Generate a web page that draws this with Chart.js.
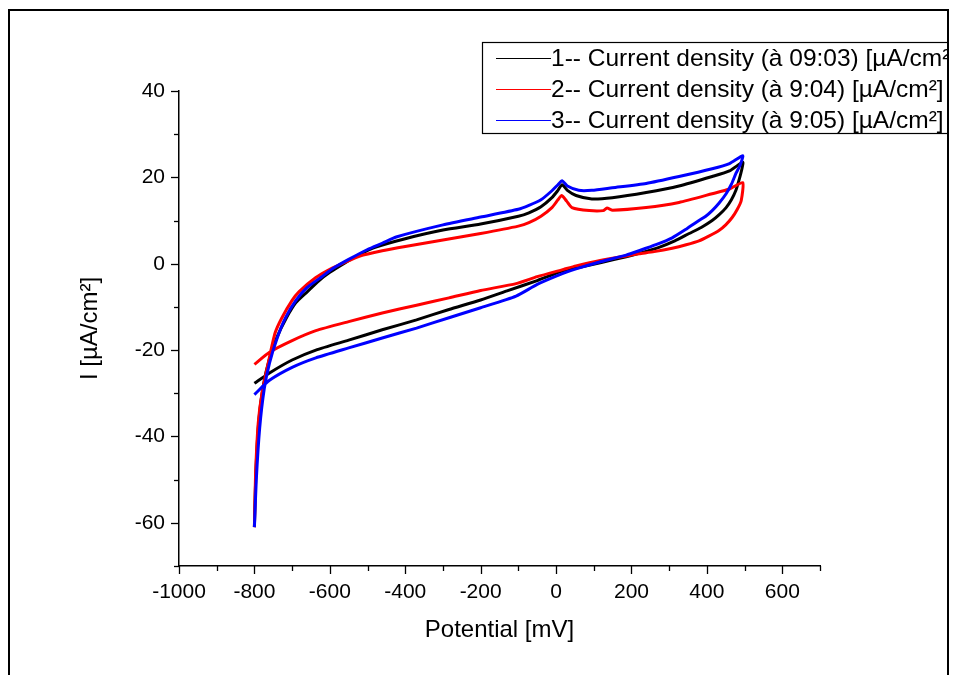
<!DOCTYPE html>
<html><head><meta charset="utf-8">
<script src="https://cdn.jsdelivr.net/npm/chart.js@4.4.0/dist/chart.umd.min.js"></script>
<style>html,body{margin:0;padding:0;background:#fff}canvas{display:block}</style>
</head><body>
<canvas id="c" width="954" height="675"></canvas>
<script>
// ---- data ----
const seriesLabels = [
  '1-- Current density (à 09:03) [µA/cm²]',
  '2-- Current density (à 9:04) [µA/cm²]',
  '3-- Current density (à 9:05) [µA/cm²]'
];
const seriesColors = ['#000000', '#ff0000', '#0000ff'];

// series 1 (black): forward sweep -800 -> 495, then reverse sweep 495 -> -800
const potential1 = [-800,-796,-788,-776,-760,-740,-715,-690,-660,-630,-600,-560,-520,-480,-400,-300,-200,-100,-72,-40,-11,5,16,30,53,95,149,239,326,414,460,495,
                    493,485,477,465,451,432,414,385,353,315,273,220,186,120,60,20,-50,-130,-200,-284,-370,-461,-550,-637,-700,-760,-800];
const current1   = [-61,-48,-36,-28,-22,-17,-12.5,-9,-6.5,-4,-2,0.2,2.2,3.8,5.8,7.8,9.2,11,11.8,13.2,15.3,17,18.3,17,15.8,15,15.3,16.5,18,20.2,21.5,23.5,
                    22,19.3,17,14.8,13,11.3,10,8.4,7,5.3,3.8,2.4,1.6,0.3,-0.9,-1.6,-3.9,-6.3,-8.4,-10.6,-13,-15.3,-17.7,-20,-22.3,-25.3,-27.7];

// series 2 (red)
const potential2 = [-800,-797,-790,-780,-761,-745,-727,-700,-682,-637,-600,-568,-520,-461,-400,-300,-200,-100,-72,-40,-11,5,15,28,42,88,125,135,150,239,326,414,460,495,
                    491,480,467,450,432,405,379,345,308,260,220,186,120,53,20,-50,-106,-200,-284,-370,-461,-550,-637,-700,-760,-800];
const current2   = [-61,-49,-37,-30,-22,-16,-12.5,-8.5,-6.5,-3.2,-1.3,0,1.8,3,4,5.5,7,8.7,9.5,11,13,14.8,15.8,14.5,13,12.3,12.3,12.9,12.4,13,14.2,16.2,17.3,18.8,
                    14.6,12.5,10.7,9,7.7,6.4,5.3,4.4,3.6,2.8,2.3,1.8,0.8,-0.5,-1.3,-3,-4.6,-6.2,-7.9,-9.6,-11.4,-13.4,-15.5,-17.8,-20.5,-23.3];

// series 3 (blue)
const potential3 = [-800,-795,-786,-774,-760,-740,-718,-690,-660,-621,-590,-550,-500,-460,-424,-300,-200,-100,-72,-40,-11,5,16,30,60,95,149,239,326,414,460,495,
                    488,477,465,451,432,414,397,379,345,308,265,220,186,120,53,20,-50,-106,-200,-284,-370,-461,-550,-637,-700,-760,-800];
const current3   = [-61,-50,-38,-29,-23,-17.3,-12.6,-8.5,-5.5,-3,-1,1,3.3,4.8,6.2,9,10.8,12.6,13.5,14.8,16.9,18.3,19.2,18,17,17,17.6,18.6,20.2,22,23.2,25,
                    22.8,20.9,18.4,16.2,14,12.3,11,10,8,6,4.4,3,2,0.5,-1.2,-2.2,-4.8,-7.5,-10.2,-12.5,-14.9,-17.2,-19.5,-21.8,-24,-27,-30.3];

const xTickValues = [-1000,-800,-600,-400,-200,0,200,400,600];
const yTickValues = [-60,-40,-20,0,20,40];
const xTitle = 'Potential [mV]';
const yTitle = 'I [µA/cm²]';

// ---- build ----
const potentials = [potential1, potential2, potential3];
const currents = [current1, current2, current3];
const FONT = "'Liberation Sans', Arial, sans-serif";

const datasets = seriesLabels.map((lab, i) => ({
  label: lab,
  data: potentials[i].map((x, k) => ({x: x, y: currents[i][k]})),
  borderColor: seriesColors[i],
  backgroundColor: seriesColors[i],
  borderWidth: 3,
  pointRadius: 0,
  showLine: true,
  fill: false,
  tension: 0.2,
  order: 3 - i
}));

const PLOT = {left: 179, right: 820, top: 91, bottom: 566};

const decorPlugin = {
  id: 'decor',
  afterDraw(chart) {
    const ctx = chart.ctx;
    const xs = chart.scales.x, ys = chart.scales.y;
    const ca = chart.chartArea;
    ctx.save();
    ctx.strokeStyle = '#000';
    ctx.lineWidth = 1.3;
    xs.ticks.forEach(t => {
      const px = Math.round(xs.getPixelForValue(t.value)) + 0.5;
      const major = xTickValues.includes(t.value);
      ctx.beginPath();
      ctx.moveTo(px, ca.bottom);
      ctx.lineTo(px, ca.bottom + (major ? 8 : 5));
      ctx.stroke();
    });
    ys.ticks.forEach(t => {
      const py = Math.round(ys.getPixelForValue(t.value)) + 0.5;
      const major = yTickValues.includes(t.value);
      ctx.beginPath();
      ctx.moveTo(ca.left, py);
      ctx.lineTo(ca.left - (major ? 8 : 5), py);
      ctx.stroke();
    });
    // outer frame
    ctx.lineWidth = 2;
    ctx.beginPath();
    ctx.moveTo(9, 700); ctx.lineTo(9, 10); ctx.lineTo(948, 10); ctx.lineTo(948, 700);
    ctx.stroke();
    // legend (clipped by the frame)
    ctx.beginPath();
    ctx.rect(0, 0, 947, 675);
    ctx.clip();
    ctx.lineWidth = 1.2;
    ctx.strokeRect(482.5, 42.5, 480, 91);
    ctx.font = '24.5px ' + FONT;
    ctx.textBaseline = 'middle';
    ctx.textAlign = 'left';
    chart.data.datasets.forEach((ds, i) => {
      const y = 58 + i * 31;
      ctx.strokeStyle = ds.borderColor;
      ctx.lineWidth = 1.2;
      ctx.beginPath();
      ctx.moveTo(496, y + 0.5); ctx.lineTo(551, y + 0.5);
      ctx.stroke();
      ctx.fillStyle = '#000';
      ctx.fillText(ds.label, 551, y + 1);
    });
    ctx.restore();
  }
};

new Chart(document.getElementById('c'), {
  type: 'scatter',
  data: {datasets: datasets},
  plugins: [decorPlugin],
  options: {
    responsive: false,
    animation: false,
    devicePixelRatio: 1,
    layout: {padding: {left: 0, top: PLOT.top, right: 954 - PLOT.right, bottom: 0}},
    plugins: {legend: {display: false}, tooltip: {enabled: false}},
    scales: {
      x: {
        type: 'linear', min: -1000, max: 700,
        afterFit: s => { s.height = 675 - PLOT.bottom; },
        border: {display: true, color: '#000', width: 1.5},
        grid: {display: true, drawOnChartArea: false, tickLength: 8, color: 'rgba(0,0,0,0)', tickColor: 'rgba(0,0,0,0)'},
        ticks: {
          stepSize: 100, autoSkip: false, maxRotation: 0, padding: 6,
          color: '#000', font: {family: FONT, size: 21},
          callback: v => xTickValues.includes(v) ? String(v) : ''
        },
        title: {display: true, text: xTitle, color: '#000', font: {family: FONT, size: 24, lineHeight: 1}, padding: {top: 0, bottom: 33}}
      },
      y: {
        type: 'linear', min: -70, max: 40,
        afterFit: s => { s.width = PLOT.left; },
        border: {display: true, color: '#000', width: 1.5},
        grid: {display: true, drawOnChartArea: false, tickLength: 8, color: 'rgba(0,0,0,0)', tickColor: 'rgba(0,0,0,0)'},
        ticks: {
          stepSize: 10, autoSkip: false, padding: 6,
          color: '#000', font: {family: FONT, size: 21},
          callback: v => yTickValues.includes(v) ? String(v) : ''
        },
        title: {display: true, text: yTitle, color: '#000', font: {family: FONT, size: 24, lineHeight: 1}, padding: {top: 78, bottom: 0}}
      }
    }
  }
});
</script>
</body></html>
